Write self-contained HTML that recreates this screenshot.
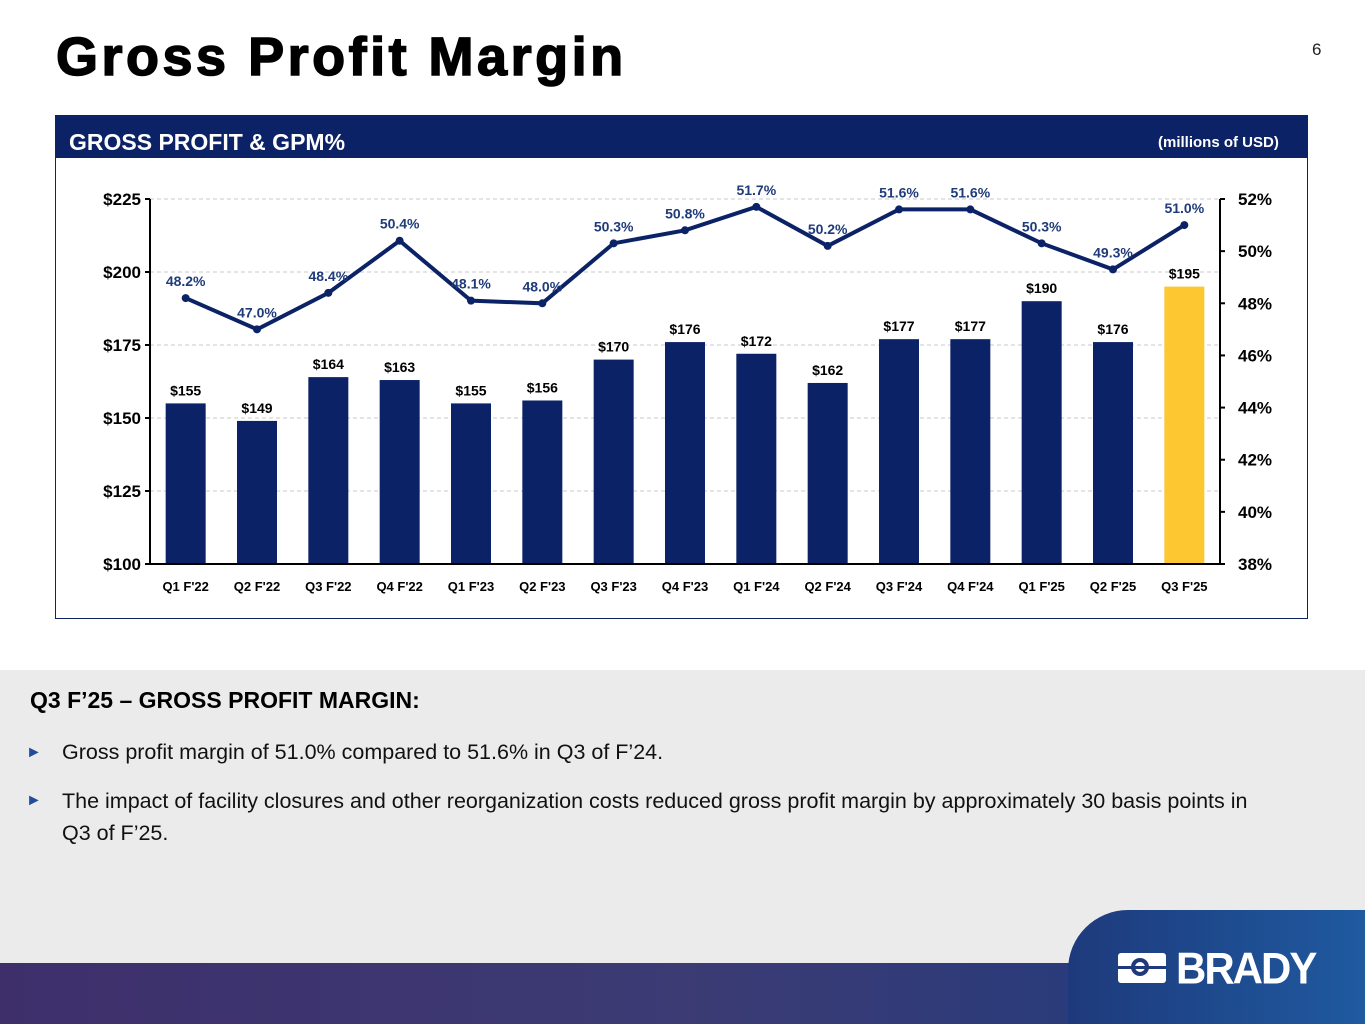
<!DOCTYPE html>
<html><head><meta charset="utf-8"><style>
body{margin:0;width:1365px;height:1024px;position:relative;overflow:hidden;background:#fff;font-family:"Liberation Sans",Arial,sans-serif}
.abs{position:absolute}
</style></head><body>
<div class="abs" style="left:56px;top:26px;font-size:54px;font-weight:bold;color:#000;letter-spacing:3.5px;-webkit-text-stroke:1.5px #000">Gross Profit Margin</div>
<div class="abs" style="left:1312px;top:40px;font-size:17px;color:#222">6</div>
<div class="abs" style="left:55px;top:115px;width:1253px;height:504px;border:1px solid #0b2266;box-sizing:border-box"></div>
<div class="abs" style="left:55px;top:115px;width:1253px;height:43px;background:#0b2266"></div>
<div class="abs" style="left:69px;top:129px;font-size:23px;font-weight:bold;color:#fff">GROSS PROFIT &amp; GPM%</div>
<div class="abs" style="left:1158px;top:134px;font-size:15px;font-weight:bold;color:#fff">(millions of USD)</div>
<svg class="abs" style="left:0;top:0" width="1365" height="640" id="chart"></svg>
<div class="abs" style="left:0;top:670px;width:1365px;height:294px;background:#ebebeb"></div>
<div class="abs" style="left:30px;top:687px;font-size:23px;font-weight:bold;color:#000">Q3 F’25 – GROSS PROFIT MARGIN:</div>
<div class="abs" style="left:26px;top:740px;font-size:21.5px;color:#111"><span style="color:#1f4e9e;font-size:16px;position:absolute;left:0;top:4px">►</span><span style="margin-left:36px">Gross profit margin of 51.0% compared to 51.6% in Q3 of F’24.</span></div>
<div class="abs" style="left:26px;top:785px;width:1245px;font-size:21.5px;line-height:32px;color:#111"><span style="color:#1f4e9e;font-size:16px;position:absolute;left:0;top:0">►</span><div style="margin-left:36px">The impact of facility closures and other reorganization costs reduced gross profit margin by approximately 30 basis points in Q3 of F’25.</div></div>
<div class="abs" style="left:0;top:963px;width:1365px;height:61px;background:linear-gradient(90deg,#3e2f6b,#3c3b74 50%,#1d3b80)"></div>
<div class="abs" style="left:1068px;top:910px;width:300px;height:114px;background:linear-gradient(90deg,#1e3a7c,#1f5aa0);border-top-left-radius:60px"></div>
<div class="abs" style="left:1118px;top:947px;width:210px;height:42px">
<div class="abs" style="left:0;top:6px;width:48px;height:30px;background:#fff;border-radius:3px"></div>
<div class="abs" style="left:13px;top:11px;width:18px;height:18px;border-radius:50%;background:#1e3a7c"></div>
<div class="abs" style="left:17px;top:15px;width:10px;height:10px;border-radius:50%;background:#fff"></div>
<div class="abs" style="left:0;top:19px;width:48px;height:3px;background:#1e3a7c"></div>
<div class="abs" style="left:58px;top:-2px;font-size:42px;font-weight:bold;color:#fff;letter-spacing:-2px;transform:scaleY(1.05)">BRADY</div>
</div>
<script>
const categories=["Q1 F'22","Q2 F'22","Q3 F'22","Q4 F'22","Q1 F'23","Q2 F'23","Q3 F'23","Q4 F'23","Q1 F'24","Q2 F'24","Q3 F'24","Q4 F'24","Q1 F'25","Q2 F'25","Q3 F'25"];
const grossProfit=[155,149,164,163,155,156,170,176,172,162,177,177,190,176,195];
const gpm=[48.2,47.0,48.4,50.4,48.1,48.0,50.3,50.8,51.7,50.2,51.6,51.6,50.3,49.3,51.0];
const leftTicks=[100,125,150,175,200,225];
const rightTicks=[38,40,42,44,46,48,50,52];
const svg=document.getElementById('chart');const NS='http://www.w3.org/2000/svg';
const X0=150,X1=1220,Y0=564,Y1=199;
const step=(X1-X0)/categories.length;
const xc=i=>X0+step*(i+0.5);
const yL=v=>Y0-(v-100)/(225-100)*(Y0-Y1);
const yR=v=>Y0-(v-38)/(52-38)*(Y0-Y1);
function mk(t,a,txt){const e=document.createElementNS(NS,t);for(const k in a)e.setAttribute(k,a[k]);if(txt!=null)e.textContent=txt;svg.appendChild(e);return e;}
leftTicks.forEach(v=>{
 if(v>100){const g=mk('line',{x1:X0,x2:X1,y1:yL(v),y2:yL(v),stroke:'#c8c8c8','stroke-dasharray':'4,3'});
 
 }
 const t=mk('text',{x:X0-9,y:yL(v)+6,'text-anchor':'end','font-size':17,'font-weight':'bold',fill:'#000'},'$'+v);
 
 
 mk('line',{x1:X0-5,x2:X0,y1:yL(v),y2:yL(v),stroke:'#000','stroke-width':2});
});
rightTicks.forEach(v=>{
 const t=mk('text',{x:X1+18,y:yR(v)+6,'font-size':17,'font-weight':'bold',fill:'#000'},v+'%');
 
 
 mk('line',{x1:X1,x2:X1+5,y1:yR(v),y2:yR(v),stroke:'#000','stroke-width':2});
});
grossProfit.forEach((v,i)=>{
 const b=mk('rect',{x:xc(i)-20,y:yL(v),width:40,height:Y0-yL(v),fill:i==categories.length-1?'#fcc730':'#0b2266'});
 
 
 const l=mk('text',{x:xc(i),y:yL(v)-8,'text-anchor':'middle','font-size':14,'font-weight':'bold',fill:'#000'},'$'+v);
 
 
 const c=mk('text',{x:xc(i),y:Y0+27,'text-anchor':'middle','font-size':13,'font-weight':'bold',fill:'#000'},categories[i]);
 
 
});
mk('line',{x1:X0,x2:X0,y1:Y1,y2:Y0,stroke:'#000','stroke-width':2});
mk('line',{x1:X1,x2:X1,y1:Y1,y2:Y0,stroke:'#000','stroke-width':2});
mk('line',{x1:X0,x2:X1,y1:Y0,y2:Y0,stroke:'#000','stroke-width':2});
const ln=mk('polyline',{points:gpm.map((v,i)=>xc(i)+','+yR(v)).join(' '),fill:'none',stroke:'#0b2266','stroke-width':4});


gpm.forEach((v,i)=>{
 const p=mk('circle',{cx:xc(i),cy:yR(v),r:4,fill:'#0b2266'});
 
 
 const l=mk('text',{x:xc(i),y:yR(v)-12,'text-anchor':'middle','font-size':14,'font-weight':'bold',fill:'#1f3b7a'},v.toFixed(1)+'%');
 
 
});
</script>
</body></html>
